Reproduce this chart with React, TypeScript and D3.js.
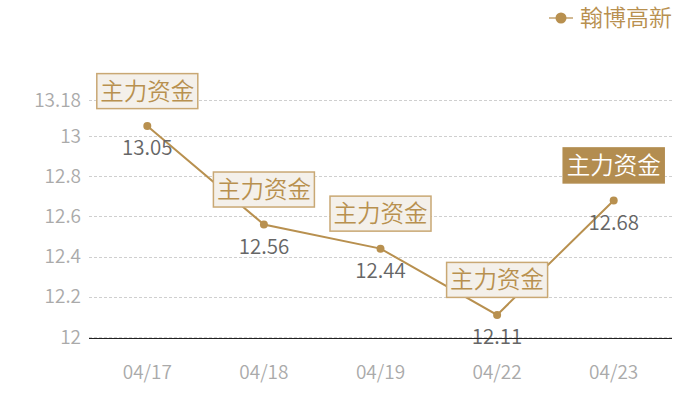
import React, { useEffect, useRef } from 'react';
import * as d3 from 'd3';

const dates = ['04/17', '04/18', '04/19', '04/22', '04/23'];
const prices = [13.05, 12.56, 12.44, 12.11, 12.68];
const yTicks = [12, 12.2, 12.4, 12.6, 12.8, 13, 13.18];
const markLabel = '主力资金';
const seriesName = '翰博高新';

const GOLD = '#b8904f';
const FONT = '"Noto Sans CJK SC", "Noto Sans", sans-serif';

export default function App() {
  const chartRef = useRef<HTMLDivElement>(null);

  useEffect(() => {
    if (chartRef.current) {
      d3.select(chartRef.current).selectAll('*').remove();
    }

    const width = 700;
    const height = 400;
    const margin = { top: 100, right: 28, bottom: 63, left: 89 };

    const svg = d3
      .select(chartRef.current)
      .append('svg')
      .attr('width', width)
      .attr('height', height)
      .style('font-family', FONT)
      .style('font-weight', 350);

    const x = d3
      .scaleBand<string>()
      .domain(dates)
      .range([margin.left, width - margin.right]);

    const y = d3
      .scaleLinear()
      .domain([12, 13.18])
      .range([height - margin.bottom, margin.top]);

    const cx = (d: string) => (x(d) as number) + x.bandwidth() / 2;

    // grid lines
    svg
      .append('g')
      .selectAll('line')
      .data(yTicks)
      .join('line')
      .attr('x1', margin.left)
      .attr('x2', width - margin.right)
      .attr('y1', (d) => Math.round(y(d)) + 0.5)
      .attr('y2', (d) => Math.round(y(d)) + 0.5)
      .attr('stroke', '#cfcfcf')
      .attr('stroke-width', 1)
      .attr('stroke-dasharray', '3,2');

    // y labels
    svg
      .append('g')
      .selectAll('text')
      .data(yTicks)
      .join('text')
      .attr('x', margin.left - 8)
      .attr('y', (d) => y(d))
      .attr('dy', '0.35em')
      .attr('text-anchor', 'end')
      .attr('fill', '#aaaaaa')
      .attr('font-size', 19)
      .text((d) => String(d));

    // x labels
    svg
      .append('g')
      .selectAll('text')
      .data(dates)
      .join('text')
      .attr('x', (d) => cx(d))
      .attr('y', height - margin.bottom + 35)
      .attr('dy', '0.35em')
      .attr('text-anchor', 'middle')
      .attr('fill', '#aaaaaa')
      .attr('font-size', 19)
      .text((d) => d);

    const series = dates.map((d, i) => ({ date: d, value: prices[i] }));

    // line
    svg
      .append('path')
      .datum(series)
      .attr('fill', 'none')
      .attr('stroke', GOLD)
      .attr('stroke-width', 2)
      .attr(
        'd',
        d3
          .line<any>()
          .x((d) => cx(d.date))
          .y((d) => y(d.value))
      );

    // points
    svg
      .append('g')
      .selectAll('circle')
      .data(series)
      .join('circle')
      .attr('cx', (d) => cx(d.date))
      .attr('cy', (d) => y(d.value))
      .attr('r', 4)
      .attr('fill', GOLD);

    // value labels
    svg
      .append('g')
      .selectAll('text')
      .data(series)
      .join('text')
      .attr('x', (d) => cx(d.date))
      .attr('y', (d) => y(d.value) + 22)
      .attr('dy', '0.36em')
      .attr('text-anchor', 'middle')
      .attr('fill', '#666666')
      .attr('font-size', 20.5)
      .text((d) => d.value.toFixed(2));

    // axis line
    svg
      .append('line')
      .attr('x1', margin.left)
      .attr('x2', width - margin.right)
      .attr('y1', Math.round(y(12)) + 1.5)
      .attr('y2', Math.round(y(12)) + 1.5)
      .attr('stroke', '#222222')
      .attr('stroke-width', 1);

    // mark boxes
    const boxW = 101;
    const boxH = 35;
    const marks = svg
      .append('g')
      .selectAll('g')
      .data(series)
      .join('g')
      .attr(
        'transform',
        (d) => `translate(${cx(d.date)},${y(d.value) - 35})`
      );

    marks
      .append('rect')
      .attr('x', -boxW / 2)
      .attr('y', -boxH / 2)
      .attr('width', boxW)
      .attr('height', boxH)
      .attr('fill', (d, i) => (i === series.length - 1 ? '#b38d50' : '#f4f0ea'))
      .attr('stroke', (d, i) => (i === series.length - 1 ? '#b38d50' : '#c9a874'))
      .attr('stroke-width', 1.5);

    marks
      .append('text')
      .attr('text-anchor', 'middle')
      .attr('dy', '0.36em')
      .attr('font-size', 23.5)
      .attr('fill', (d, i) => (i === series.length - 1 ? '#ffffff' : GOLD))
      .text(markLabel);

    // legend
    const legend = svg.append('g').attr('transform', 'translate(549,18)');
    legend
      .append('line')
      .attr('x1', 0)
      .attr('x2', 24)
      .attr('stroke', '#d2b992')
      .attr('stroke-width', 2);
    legend.append('circle').attr('cx', 12).attr('r', 5.5).attr('fill', GOLD);
    legend
      .append('text')
      .attr('x', 31)
      .attr('dy', '0.36em')
      .attr('font-size', 23)
      .attr('fill', GOLD)
      .text(seriesName);
  }, []);

  return (
    <div
      ref={chartRef}
      style={{ position: 'absolute', left: 0, top: 0, width: 700, height: 400 }}
    ></div>
  );
}
